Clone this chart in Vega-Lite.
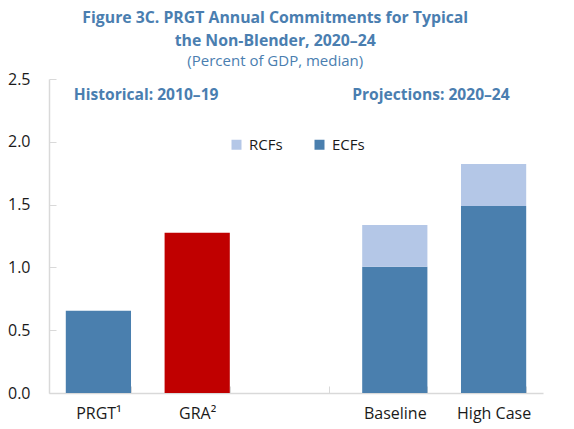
{
  "$schema": "https://vega.github.io/schema/vega-lite/v6.json",
  "width": 494,
  "height": 314,
  "autosize": {"type": "none"},
  "padding": {"left": 49, "top": 79, "right": 31, "bottom": 36},
  "background": "white",
  "config": {
    "font": "Open Sans",
    "view": {"stroke": null},
    "axis": {"grid": false, "domainColor": "#D9D9D9", "tickColor": "#D9D9D9", "labelColor": "#1a1a1a", "titleColor": "#1a1a1a"}
  },
  "title": {
    "text": ["Figure 3C. PRGT Annual Commitments for Typical", "the Non-Blender, 2020–24"],
    "subtitle": "(Percent of GDP, median)",
    "anchor": "middle",
    "frame": "bounds",
    "color": "#4A7EB0",
    "subtitleColor": "#4A7EB0",
    "fontSize": 15.8,
    "fontWeight": "bold",
    "lineHeight": 23,
    "subtitleFontSize": 15,
    "subtitleFontWeight": "normal",
    "subtitlePadding": 4,
    "offset": 1
  },
  "data": {
    "values": [
      {"cat": "PRGT¹", "series": "PRGT", "value": 0.655},
      {"cat": "GRA²", "series": "GRA", "value": 1.276},
      {"cat": "Baseline", "series": "ECFs", "value": 1.006},
      {"cat": "Baseline", "series": "RCFs", "value": 0.331},
      {"cat": "High Case", "series": "ECFs", "value": 1.489},
      {"cat": "High Case", "series": "RCFs", "value": 0.334}
    ]
  },
  "layer": [
    {
      "mark": {"type": "bar"},
      "encoding": {
        "x": {
          "field": "cat", "type": "nominal", "title": null,
          "scale": {"domain": ["PRGT¹", "GRA²", " ", "Baseline", "High Case"], "paddingInner": 0.34, "paddingOuter": 0.17},
          "axis": {"labelAngle": 0, "labelFontSize": 16, "tickBand": "extent", "tickSize": -7, "labelPadding": 19, "domainWidth": 1.5}
        },
        "y": {
          "field": "value", "type": "quantitative", "stack": "zero", "title": null,
          "scale": {"domain": [0, 2.5], "nice": false},
          "axis": {"values": [0, 0.5, 1, 1.5, 2, 2.5], "format": ".1f", "labelFontSize": 16, "tickSize": -7, "labelPadding": 26, "domainWidth": 1.5}
        },
        "color": {
          "field": "series", "type": "nominal",
          "scale": {"domain": ["RCFs", "ECFs", "PRGT", "GRA"], "range": ["#B4C7E7", "#4A7FAE", "#4A7FAE", "#C00000"]},
          "legend": {
            "values": ["RCFs", "ECFs"], "title": null, "orient": "none", "direction": "horizontal",
            "legendX": 180, "legendY": 58, "symbolType": "square", "symbolSize": 100, "symbolStrokeWidth": 0,
            "labelFontSize": 15, "labelColor": "#1a1a1a", "labelOffset": 5, "columnPadding": 29, "padding": 0
          }
        },
        "order": {"field": "series", "sort": "ascending"}
      }
    },
    {
      "data": {"values": [{"cat": "PRGT¹", "label": "Historical: 2010–19", "y": 2.37}]},
      "mark": {"type": "text", "align": "left", "baseline": "middle", "dx": 8, "fontWeight": "bold", "fontSize": 15.6, "color": "#4A7EB0"},
      "encoding": {
        "x": {"field": "cat", "type": "nominal", "bandPosition": 0},
        "y": {"field": "y", "type": "quantitative"},
        "text": {"field": "label"}
      }
    },
    {
      "data": {"values": [{"cat": "Baseline", "label": "Projections: 2020–24", "y": 2.37}]},
      "mark": {"type": "text", "align": "left", "baseline": "middle", "dx": -10, "fontWeight": "bold", "fontSize": 15.6, "color": "#4A7EB0"},
      "encoding": {
        "x": {"field": "cat", "type": "nominal", "bandPosition": 0},
        "y": {"field": "y", "type": "quantitative"},
        "text": {"field": "label"}
      }
    }
  ]
}
